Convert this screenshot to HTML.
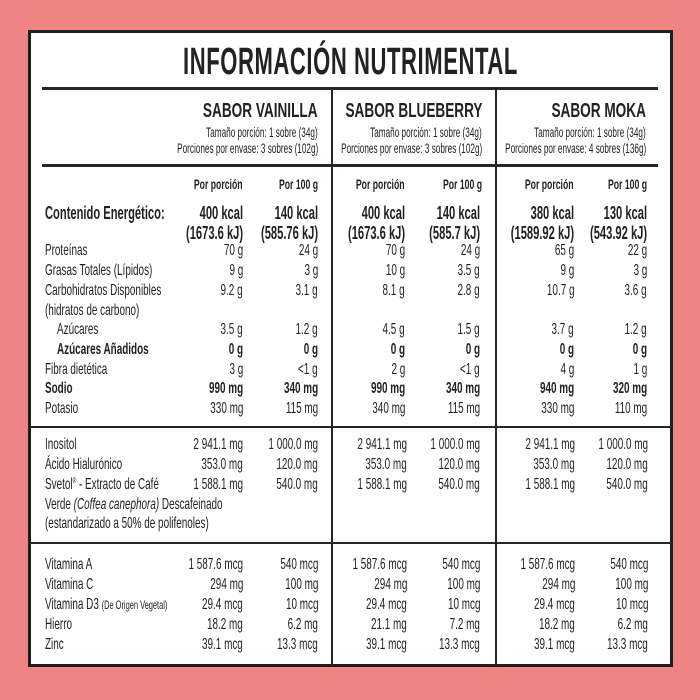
<!DOCTYPE html>
<html><head><meta charset="utf-8"><style>
*{margin:0;padding:0;box-sizing:border-box}
body{width:700px;height:700px;background:#ee8484;position:relative;overflow:hidden;font-family:"Liberation Sans Narrow","Liberation Sans",sans-serif;color:#222}
#box{position:absolute;left:28px;top:30px;width:645px;height:637px;background:#fff;border:3px solid #1e1e1e}
.h{position:absolute;background:#2a2522}
.r,.l{position:absolute;white-space:nowrap;font-size:16px;line-height:20px;transform:scaleX(.62)}
.r{transform-origin:right center;text-align:right}
.l{transform-origin:left center}
.b{font-weight:bold}
.s{font-size:14px}
.hd{font-size:20px;font-weight:bold;transform:scaleX(.68)}
.sm{font-size:14px;transform:scaleX(.585)}
sup{font-size:8px;line-height:0;vertical-align:6px}
</style></head><body>
<div id="box"></div>
<div class="l b" style="left:183px;top:42px;font-size:38px;line-height:40px;transform:scaleX(.58);letter-spacing:1px">INFORMACIÓN NUTRIMENTAL</div>
<div class="h" style="left:42px;top:87px;width:616px;height:3px"></div>
<div class="h" style="left:42px;top:164px;width:616px;height:3px"></div>
<div class="h" style="left:331px;top:88px;width:2px;height:578px"></div>
<div class="h" style="left:495px;top:88px;width:2px;height:578px"></div>
<div class="h" style="left:28px;top:426px;width:644px;height:2px"></div>
<div class="h" style="left:28px;top:542px;width:644px;height:2px"></div>

<div class="r hd" style="right:382px;top:101px">SABOR VAINILLA</div>
<div class="r sm" style="right:382px;top:122px">Tamaño porción: 1 sobre (34g)</div>
<div class="r sm" style="right:382px;top:138px">Porciones por envase: 3 sobres (102g)</div>
<div class="r hd" style="right:218px;top:101px">SABOR BLUEBERRY</div>
<div class="r sm" style="right:218px;top:122px">Tamaño porción: 1 sobre (34g)</div>
<div class="r sm" style="right:218px;top:138px">Porciones por envase: 3 sobres (102g)</div>
<div class="r hd" style="right:54px;top:101px">SABOR MOKA</div>
<div class="r sm" style="right:54px;top:122px">Tamaño porción: 1 sobre (34g)</div>
<div class="r sm" style="right:54px;top:138px">Porciones por envase: 4 sobres (136g)</div>

<div class="r b s" style="right:457px;top:174px">Por porción</div><div class="r b s" style="right:382px;top:174px">Por 100 g</div>
<div class="r b s" style="right:295px;top:174px">Por porción</div><div class="r b s" style="right:218px;top:174px">Por 100 g</div>
<div class="r b s" style="right:126px;top:174px">Por porción</div><div class="r b s" style="right:53px;top:174px">Por 100 g</div>

<div class="l b" style="left:45px;top:203px;font-size:18px">Contenido Energético:</div>
<div class="l" style="left:45px;top:241px">Proteínas</div>
<div class="l" style="left:45px;top:261px">Grasas Totales (Lípidos)</div>
<div class="l" style="left:45px;top:281px">Carbohidratos Disponibles</div>
<div class="l" style="left:45px;top:301px">(hidratos de carbono)</div>
<div class="l" style="left:57px;top:320px">Azúcares</div>
<div class="l b" style="left:57px;top:340px">Azúcares Añadidos</div>
<div class="l" style="left:45px;top:360px">Fibra dietética</div>
<div class="l b" style="left:45px;top:379px">Sodio</div>
<div class="l" style="left:45px;top:399px">Potasio</div>

<div class="r b" style="right:457px;top:203px;font-size:18px">400 kcal</div><div class="r b" style="right:382px;top:203px;font-size:18px">140 kcal</div>
<div class="r b" style="right:457px;top:223px;font-size:18px">(1673.6 kJ)</div><div class="r b" style="right:382px;top:223px;font-size:18px">(585.76 kJ)</div>
<div class="r" style="right:457px;top:241px">70 g</div><div class="r" style="right:382px;top:241px">24 g</div>
<div class="r" style="right:457px;top:261px">9 g</div><div class="r" style="right:382px;top:261px">3 g</div>
<div class="r" style="right:457px;top:281px">9.2 g</div><div class="r" style="right:382px;top:281px">3.1 g</div>
<div class="r" style="right:457px;top:320px">3.5 g</div><div class="r" style="right:382px;top:320px">1.2 g</div>
<div class="r b" style="right:457px;top:340px">0 g</div><div class="r b" style="right:382px;top:340px">0 g</div>
<div class="r" style="right:457px;top:360px">3 g</div><div class="r" style="right:382px;top:360px">&lt;1 g</div>
<div class="r b" style="right:457px;top:379px">990 mg</div><div class="r b" style="right:382px;top:379px">340 mg</div>
<div class="r" style="right:457px;top:399px">330 mg</div><div class="r" style="right:382px;top:399px">115 mg</div>

<div class="r b" style="right:295px;top:203px;font-size:18px">400 kcal</div><div class="r b" style="right:220px;top:203px;font-size:18px">140 kcal</div>
<div class="r b" style="right:295px;top:223px;font-size:18px">(1673.6 kJ)</div><div class="r b" style="right:220px;top:223px;font-size:18px">(585.7 kJ)</div>
<div class="r" style="right:295px;top:241px">70 g</div><div class="r" style="right:220px;top:241px">24 g</div>
<div class="r" style="right:295px;top:261px">10 g</div><div class="r" style="right:220px;top:261px">3.5 g</div>
<div class="r" style="right:295px;top:281px">8.1 g</div><div class="r" style="right:220px;top:281px">2.8 g</div>
<div class="r" style="right:295px;top:320px">4.5 g</div><div class="r" style="right:220px;top:320px">1.5 g</div>
<div class="r b" style="right:295px;top:340px">0 g</div><div class="r b" style="right:220px;top:340px">0 g</div>
<div class="r" style="right:295px;top:360px">2 g</div><div class="r" style="right:220px;top:360px">&lt;1 g</div>
<div class="r b" style="right:295px;top:379px">990 mg</div><div class="r b" style="right:220px;top:379px">340 mg</div>
<div class="r" style="right:295px;top:399px">340 mg</div><div class="r" style="right:220px;top:399px">115 mg</div>

<div class="r b" style="right:126px;top:203px;font-size:18px">380 kcal</div><div class="r b" style="right:53px;top:203px;font-size:18px">130 kcal</div>
<div class="r b" style="right:126px;top:223px;font-size:18px">(1589.92 kJ)</div><div class="r b" style="right:53px;top:223px;font-size:18px">(543.92 kJ)</div>
<div class="r" style="right:126px;top:241px">65 g</div><div class="r" style="right:53px;top:241px">22 g</div>
<div class="r" style="right:126px;top:261px">9 g</div><div class="r" style="right:53px;top:261px">3 g</div>
<div class="r" style="right:126px;top:281px">10.7 g</div><div class="r" style="right:53px;top:281px">3.6 g</div>
<div class="r" style="right:126px;top:320px">3.7 g</div><div class="r" style="right:53px;top:320px">1.2 g</div>
<div class="r b" style="right:126px;top:340px">0 g</div><div class="r b" style="right:53px;top:340px">0 g</div>
<div class="r" style="right:126px;top:360px">4 g</div><div class="r" style="right:53px;top:360px">1 g</div>
<div class="r b" style="right:126px;top:379px">940 mg</div><div class="r b" style="right:53px;top:379px">320 mg</div>
<div class="r" style="right:126px;top:399px">330 mg</div><div class="r" style="right:53px;top:399px">110 mg</div>

<div class="l" style="left:45px;top:435px">Inositol</div>
<div class="l" style="left:45px;top:455px">Ácido Hialurónico</div>
<div class="l" style="left:45px;top:475px">Svetol<sup>®</sup> - Extracto de Café</div>
<div class="l" style="left:45px;top:495px">Verde <i>(Coffea canephora)</i> Descafeinado</div>
<div class="l" style="left:45px;top:514px">(estandarizado a 50% de polifenoles)</div>
<div class="r" style="right:457px;top:435px">2 941.1 mg</div><div class="r" style="right:382px;top:435px">1 000.0 mg</div>
<div class="r" style="right:457px;top:455px">353.0 mg</div><div class="r" style="right:382px;top:455px">120.0 mg</div>
<div class="r" style="right:457px;top:475px">1 588.1 mg</div><div class="r" style="right:382px;top:475px">540.0 mg</div>
<div class="r" style="right:293px;top:435px">2 941.1 mg</div><div class="r" style="right:220px;top:435px">1 000.0 mg</div>
<div class="r" style="right:293px;top:455px">353.0 mg</div><div class="r" style="right:220px;top:455px">120.0 mg</div>
<div class="r" style="right:293px;top:475px">1 588.1 mg</div><div class="r" style="right:220px;top:475px">540.0 mg</div>
<div class="r" style="right:125px;top:435px">2 941.1 mg</div><div class="r" style="right:52px;top:435px">1 000.0 mg</div>
<div class="r" style="right:125px;top:455px">353.0 mg</div><div class="r" style="right:52px;top:455px">120.0 mg</div>
<div class="r" style="right:125px;top:475px">1 588.1 mg</div><div class="r" style="right:52px;top:475px">540.0 mg</div>

<div class="l" style="left:45px;top:555px">Vitamina A</div>
<div class="l" style="left:45px;top:575px">Vitamina C</div>
<div class="l" style="left:45px;top:595px">Vitamina D3 <span style="font-size:12px">(De Origen Vegetal)</span></div>
<div class="l" style="left:45px;top:615px">Hierro</div>
<div class="l" style="left:45px;top:635px">Zinc</div>
<div class="r" style="right:457px;top:555px">1 587.6 mcg</div><div class="r" style="right:382px;top:555px">540 mcg</div>
<div class="r" style="right:457px;top:575px">294 mg</div><div class="r" style="right:382px;top:575px">100 mg</div>
<div class="r" style="right:457px;top:595px">29.4 mcg</div><div class="r" style="right:382px;top:595px">10 mcg</div>
<div class="r" style="right:457px;top:615px">18.2 mg</div><div class="r" style="right:382px;top:615px">6.2 mg</div>
<div class="r" style="right:457px;top:635px">39.1 mcg</div><div class="r" style="right:382px;top:635px">13.3 mcg</div>
<div class="r" style="right:293px;top:555px">1 587.6 mcg</div><div class="r" style="right:220px;top:555px">540 mcg</div>
<div class="r" style="right:293px;top:575px">294 mg</div><div class="r" style="right:220px;top:575px">100 mg</div>
<div class="r" style="right:293px;top:595px">29.4 mcg</div><div class="r" style="right:220px;top:595px">10 mcg</div>
<div class="r" style="right:293px;top:615px">21.1 mg</div><div class="r" style="right:220px;top:615px">7.2 mg</div>
<div class="r" style="right:293px;top:635px">39.1 mcg</div><div class="r" style="right:220px;top:635px">13.3 mcg</div>
<div class="r" style="right:125px;top:555px">1 587.6 mcg</div><div class="r" style="right:52px;top:555px">540 mcg</div>
<div class="r" style="right:125px;top:575px">294 mg</div><div class="r" style="right:52px;top:575px">100 mg</div>
<div class="r" style="right:125px;top:595px">29.4 mcg</div><div class="r" style="right:52px;top:595px">10 mcg</div>
<div class="r" style="right:125px;top:615px">18.2 mg</div><div class="r" style="right:52px;top:615px">6.2 mg</div>
<div class="r" style="right:125px;top:635px">39.1 mcg</div><div class="r" style="right:52px;top:635px">13.3 mcg</div>
</body></html>
